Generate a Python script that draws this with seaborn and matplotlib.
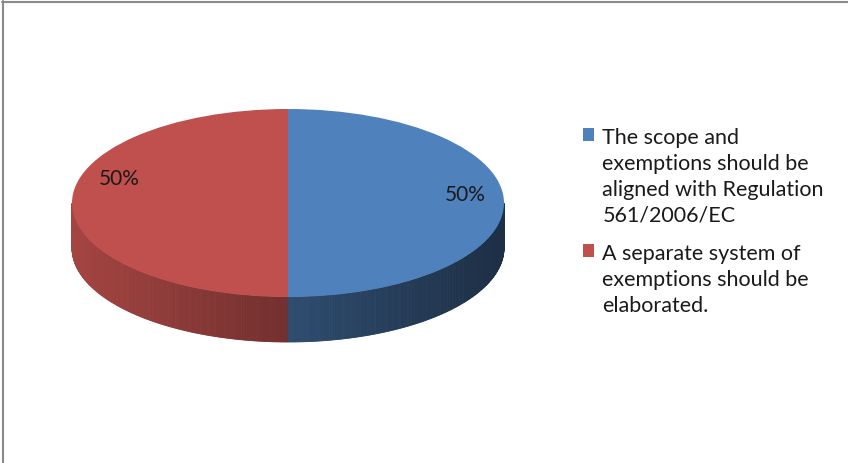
import numpy as np
import matplotlib
matplotlib.use("Agg")
import matplotlib.pyplot as plt
import matplotlib.colors as mcolors
import seaborn as sns
from matplotlib.patches import Polygon
from matplotlib.lines import Line2D

categories = [
    "The scope and\nexemptions should be\naligned with Regulation\n561/2006/EC",
    "A separate system of\nexemptions should be\nelaborated.",
]
shares = [50, 50]
colors = ["#4f81bd", "#c0504d"]

sns.set_theme(style="white")
plt.rcParams["font.family"] = ["Lato", "DejaVu Sans"]

W, H = 848, 463
fig = plt.figure(figsize=(W / 100, H / 100), dpi=100)
fig.patch.set_facecolor("white")

# pixel-space canvas for the pie's side wall and the frame
base = fig.add_axes([0, 0, 1, 1])
base.set_xlim(0, W)
base.set_ylim(H, 0)
base.axis("off")

cx, cy, rx, ry, depth = 288, 203, 216, 94, 45
start = 90
frac = np.array(shares, float) / sum(shares)
bounds = start - 360 * np.concatenate([[0], np.cumsum(frac)])


def slice_of(t):
    tt = t
    while tt > start:
        tt -= 360
    while tt <= start - 360:
        tt += 360
    for i in range(len(frac)):
        if bounds[i + 1] <= tt <= bounds[i]:
            return i
    return len(frac) - 1


# front wall of the disc, shaded darker towards the right
ts = np.linspace(180, 360, 361)
for t0, t1 in zip(ts[:-1], ts[1:]):
    i = slice_of(0.5 * (t0 + t1))
    x0, x1 = cx + rx * np.cos(np.radians([t0, t1]))
    y0, y1 = cy - ry * np.sin(np.radians([t0, t1]))
    u = ((x0 + x1) / 2 - (cx - rx)) / (2 * rx)
    shade = 0.37 + 0.49 * (1 - u) ** 1.15
    rgb = np.clip(np.array(mcolors.to_rgb(colors[i])) * shade, 0, 1)
    base.add_patch(Polygon([(x0, y0), (x1, y1), (x1, y1 + depth), (x0, y0 + depth)],
                           closed=True, facecolor=rgb, edgecolor=rgb, linewidth=0.6))

# top face of the disc
top = fig.add_axes([(cx - rx) / W, (H - (cy + ry)) / H, 2 * rx / W, 2 * ry / H])
wedges, texts, autotexts = top.pie(
    shares, colors=colors, startangle=start, counterclock=False,
    autopct="%d%%", radius=1, wedgeprops=dict(linewidth=0),
    textprops=dict(fontsize=15, color="#1a1a1a"),
)
top.set_xlim(-1, 1)
top.set_ylim(-1, 1)
top.set_aspect("auto")
top.axis("off")
autotexts[0].set_position((0.82, 0.085))
autotexts[1].set_position((-0.78, 0.255))

leg = fig.legend(
    wedges, categories, loc="upper left", bbox_to_anchor=(583 / W, 1 - 128 / H),
    frameon=False, fontsize=15.5, handlelength=0.52, handleheight=0.52,
    handletextpad=0.38, labelspacing=0.87, borderpad=0, borderaxespad=0,
)
for t in leg.get_texts():
    t.set_linespacing(1.37)
    t.set_color("#1a1a1a")
# markers sit beside the first line of each wrapped label
for col in leg._legend_handle_box.get_children():
    for row in col.get_children():
        row.align = "top"

# chart frame: top and left edges
base.add_line(Line2D([2, W], [1.5, 1.5], color="#8a8a8a", linewidth=1.5))
base.add_line(Line2D([2.5, 2.5], [1, H], color="#8a8a8a", linewidth=1.5))

fig.savefig("out.png", dpi=100, facecolor="white")
